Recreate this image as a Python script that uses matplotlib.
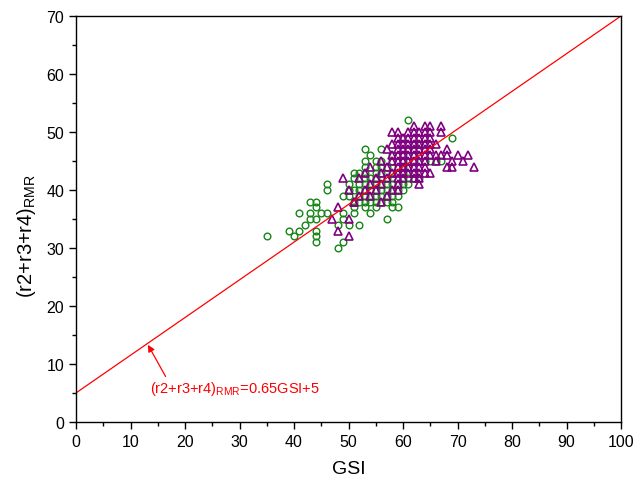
"""plot.py - GSI vs (r2+r3+r4)_RMR scatter with fitted line, saved to out.png."""
import matplotlib

matplotlib.use("Agg")
import matplotlib.pyplot as plt
import numpy as np

plt.rcParams["font.family"] = ["Liberation Sans", "DejaVu Sans"]
plt.rcParams["mathtext.fontset"] = "custom"
plt.rcParams["mathtext.rm"] = "Liberation Sans"

# green circles (GSI, RMR)
circle_gsi = [35, 39, 40, 41, 42, 41, 43, 44, 44, 43, 43, 44, 44, 44, 44, 45, 46, 46, 46,
              48, 50, 52, 49, 49, 49, 48, 51, 51, 54, 53, 55, 58, 59, 57,
              51, 52, 53, 54, 55, 56, 57, 58,
              49, 50, 52, 53, 54, 55, 56, 57, 58, 59,
              50, 51, 52, 53, 54, 55, 56, 57, 58, 59, 60,
              50, 52, 53, 54, 55, 56, 57, 58, 59, 60, 61,
              51, 53, 54, 55, 57, 58, 60, 61, 62, 63,
              51, 52, 53, 55, 56, 58, 60, 62,
              53, 55, 56, 57, 59, 60, 61,
              53, 55, 56, 58, 60, 62, 64, 65, 66, 67,
              54, 58, 60, 62,
              53, 56, 61,
              62, 63, 69, 61]
circle_rmr = [32, 33, 32, 33, 34, 36, 38, 38, 37, 36, 35, 35, 33, 32, 31, 36, 36, 41, 40,
              34, 34, 34, 36, 35, 31, 30, 37, 36, 36, 37, 37, 37, 37, 35,
              38, 38, 38, 38, 38, 38, 38, 38,
              39, 39, 39, 39, 39, 39, 39, 39, 39, 39,
              40, 40, 40, 40, 40, 40, 40, 40, 40, 40, 40,
              41, 41, 41, 41, 41, 41, 41, 41, 41, 41, 41,
              42, 42, 42, 42, 42, 42, 42, 42, 42, 42,
              43, 43, 43, 43, 43, 43, 43, 43,
              44, 44, 44, 44, 44, 44, 44,
              45, 45, 45, 45, 45, 45, 45, 45, 45, 45,
              46, 46, 46, 46,
              47, 47, 47,
              48, 48, 49, 52]

# purple triangles (GSI, RMR)
tri_gsi = [47, 50, 48, 50, 48, 49, 50, 51,
           51, 56,
           52, 54, 57,
           53, 55, 58, 59,
           54, 56, 59, 63,
           52, 55, 57, 59, 60, 62, 63,
           53, 56, 58, 59, 60, 61, 62, 63, 64, 65,
           54, 57, 59, 60, 61, 62, 63, 64, 68, 69, 73,
           56, 58, 59, 60, 61, 62, 63, 64, 66, 69, 71,
           58, 59, 60, 61, 62, 63, 64, 65, 66, 67, 68, 70, 72,
           57, 59, 60, 61, 62, 63, 64, 65, 68,
           58, 59, 60, 61, 62, 63, 64, 65, 66,
           59, 60, 61, 62, 63, 64, 65,
           58, 59, 61, 62, 63, 64, 65, 67,
           62, 64, 65, 67]
tri_rmr = [35, 35, 33, 32, 37, 42, 40, 38,
           38, 38,
           39, 39, 39,
           40, 40, 40, 40,
           41, 41, 41, 41,
           42, 42, 42, 42, 42, 42, 42,
           43, 43, 43, 43, 43, 43, 43, 43, 43, 43,
           44, 44, 44, 44, 44, 44, 44, 44, 44, 44, 44,
           45, 45, 45, 45, 45, 45, 45, 45, 45, 45, 45,
           46, 46, 46, 46, 46, 46, 46, 46, 46, 46, 46, 46, 46,
           47, 47, 47, 47, 47, 47, 47, 47, 47,
           48, 48, 48, 48, 48, 48, 48, 48, 48,
           49, 49, 49, 49, 49, 49, 49,
           50, 50, 50, 50, 50, 50, 50, 50,
           51, 51, 51, 51]

fit_slope = 0.65
fit_intercept = 5


def main() -> None:
    fig = plt.figure(figsize=(6.35, 4.85), dpi=100)
    ax = fig.add_axes([0.1197, 0.128, 0.8583, 0.837])

    ax.plot(circle_gsi, circle_rmr, linestyle="none", marker="o", markersize=4.8,
            markerfacecolor="none", markeredgecolor="#178417", markeredgewidth=1.0)
    ax.plot(tri_gsi, tri_rmr, linestyle="none", marker="^", markersize=5.6,
            markerfacecolor="none", markeredgecolor="#800080", markeredgewidth=1.2)

    xs = np.array([0, 100])
    ax.plot(xs, fit_slope * xs + fit_intercept, color="red", linewidth=0.9)

    ax.annotate("(r2+r3+r4)$_{\\mathrm{RMR}}$=0.65GSI+5", xy=(13.2, 13.3),
                xytext=(13.6, 5.8), color="red", fontsize=10.5, va="center",
                arrowprops=dict(arrowstyle="-|>", color="red", lw=0.9,
                                shrinkA=0, shrinkB=0, mutation_scale=10,
                                relpos=(0.1, 1.0)))

    ax.set_xlim(0, 100)
    ax.set_ylim(0, 70)
    ax.set_xticks(np.arange(0, 101, 10))
    ax.set_xticks(np.arange(5, 100, 10), minor=True)
    ax.set_yticks(np.arange(0, 71, 10))
    ax.set_yticks(np.arange(5, 70, 10), minor=True)
    ax.tick_params(which="major", direction="out", length=5, width=1, labelsize=11.5)
    ax.tick_params(which="minor", direction="out", length=3, width=1)
    for sp in ax.spines.values():
        sp.set_linewidth(1.0)

    ax.set_xlabel("GSI", fontsize=14, labelpad=8)
    ax.set_ylabel("(r2+r3+r4)$_{\\mathrm{RMR}}$", fontsize=14.5)
    ax.yaxis.set_label_coords(-0.07, 0.46)

    fig.savefig("out.png", dpi=100)
    plt.close(fig)


if __name__ == "__main__":
    main()
